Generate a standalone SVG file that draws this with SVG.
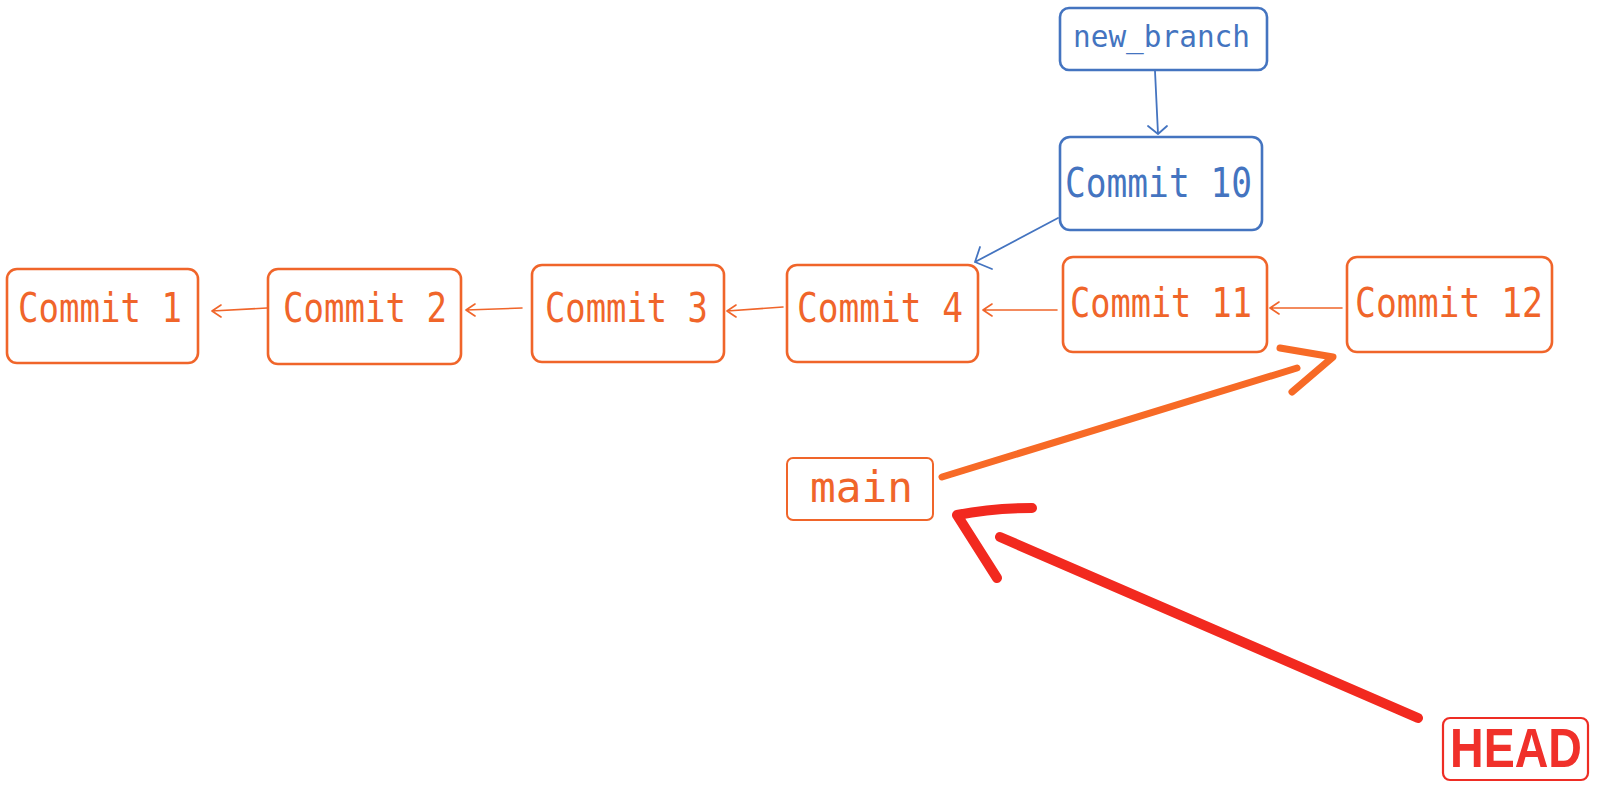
<svg xmlns="http://www.w3.org/2000/svg" width="1613" height="798" viewBox="0 0 1613 798">
<defs>
<style>
.bg{fill:#ffffff}
.ob{fill:none;stroke:#f0652a;stroke-width:2.6;stroke-linejoin:round}
.bb{fill:none;stroke:#4474c0;stroke-width:2.6;stroke-linejoin:round}
.rb{fill:none;stroke:#ee2d24;stroke-width:2.2;stroke-linejoin:round}
.ot{fill:#f0652a;font-family:"DejaVu Sans Mono","Liberation Mono",monospace;font-size:41px}
.bt{fill:#4474c0;font-family:"DejaVu Sans Mono","Liberation Mono",monospace;font-size:41px}
.ol{fill:none;stroke:#f0652a;stroke-width:1.6;stroke-linecap:round;stroke-linejoin:round}
.bl{fill:none;stroke:#4474c0;stroke-width:1.8;stroke-linecap:round;stroke-linejoin:round}
.othick{fill:none;stroke:#f76a26;stroke-width:7;stroke-linecap:round;stroke-linejoin:round}
.rthick{fill:none;stroke:#f2291f;stroke-width:10;stroke-linecap:round;stroke-linejoin:round}
</style>
</defs>
<rect class="bg" x="0" y="0" width="1613" height="798"/>

<g id="connectors">
  <!-- Commit 2 -> Commit 1 -->
  <path class="ol" d="M267 308 L212 311 M221 305 L212 311 L221 317"/>
  <!-- Commit 3 -> Commit 2 -->
  <path class="ol" d="M522 308 L466 310 M475 304 L466 310 L475 316"/>
  <!-- Commit 4 -> Commit 3 -->
  <path class="ol" d="M783 307 L727 311 M736 305 L727 311 L736 317"/>
  <!-- Commit 11 -> Commit 4 -->
  <path class="ol" d="M1057 310 L983 310 M992 304 L983 310 L992 316"/>
  <!-- Commit 12 -> Commit 11 -->
  <path class="ol" d="M1342 308 L1270 308 M1279 302 L1270 308 L1279 314"/>
  <!-- Commit 10 -> Commit 4 -->
  <path class="bl" d="M1058 218 L975 262 M980 247 L975 262 L992 269"/>
  <!-- new_branch -> Commit 10 -->
  <path class="bl" d="M1155 71 L1158 134 M1148 126 L1158 134 L1167 126"/>
  <!-- main -> Commit 12 -->
  <path class="othick" d="M942 477 L1297 368"/>
  <path class="othick" d="M1280 348 L1333 357 L1292 392"/>
  <!-- HEAD -> main -->
  <path class="rthick" d="M1418 718 L1000 537"/>
  <path class="rthick" d="M1032 508 Q992 508 957 515 L997 578"/>
</g>

<g id="new_branch">
  <rect class="bb" x="1060" y="8" width="207" height="62" rx="9"/>
  <text class="bt" x="1073" y="47" style="font-size:30px" textLength="177" lengthAdjust="spacingAndGlyphs">new_branch</text>
</g>
<g id="commit10">
  <rect class="bb" x="1060" y="137" width="202" height="93" rx="10"/>
  <text class="bt" x="1065" y="197" textLength="187" lengthAdjust="spacingAndGlyphs">Commit 10</text>
</g>
<g id="commit1">
  <rect class="ob" x="7" y="269" width="191" height="94" rx="10"/>
  <text class="ot" x="18" y="322" textLength="164" lengthAdjust="spacingAndGlyphs">Commit 1</text>
</g>
<g id="commit2">
  <rect class="ob" x="268" y="269" width="193" height="95" rx="10"/>
  <text class="ot" x="283" y="322" textLength="164" lengthAdjust="spacingAndGlyphs">Commit 2</text>
</g>
<g id="commit3">
  <rect class="ob" x="532" y="265" width="192" height="97" rx="10"/>
  <text class="ot" x="545" y="322" textLength="163" lengthAdjust="spacingAndGlyphs">Commit 3</text>
</g>
<g id="commit4">
  <rect class="ob" x="787" y="265" width="191" height="97" rx="10"/>
  <text class="ot" x="797" y="322" textLength="166" lengthAdjust="spacingAndGlyphs">Commit 4</text>
</g>
<g id="commit11">
  <rect class="ob" x="1063" y="257" width="204" height="95" rx="10"/>
  <text class="ot" x="1070" y="317" textLength="182" lengthAdjust="spacingAndGlyphs">Commit 11</text>
</g>
<g id="commit12">
  <rect class="ob" x="1347" y="257" width="205" height="95" rx="10"/>
  <text class="ot" x="1355" y="317" textLength="188" lengthAdjust="spacingAndGlyphs">Commit 12</text>
</g>
<g id="main">
  <rect class="ob" x="787" y="458" width="146" height="62" rx="6" style="stroke-width:2"/>
  <text class="ot" x="810" y="502" style="font-size:43px" textLength="103" lengthAdjust="spacingAndGlyphs">main</text>
</g>
<g id="head">
  <rect class="rb" x="1443" y="718" width="145" height="62" rx="7"/>
  <text x="1450" y="767" fill="#f0302a" font-family="'Liberation Sans','DejaVu Sans',sans-serif" font-weight="bold" font-size="55" textLength="132" lengthAdjust="spacingAndGlyphs">HEAD</text>
</g>
</svg>
